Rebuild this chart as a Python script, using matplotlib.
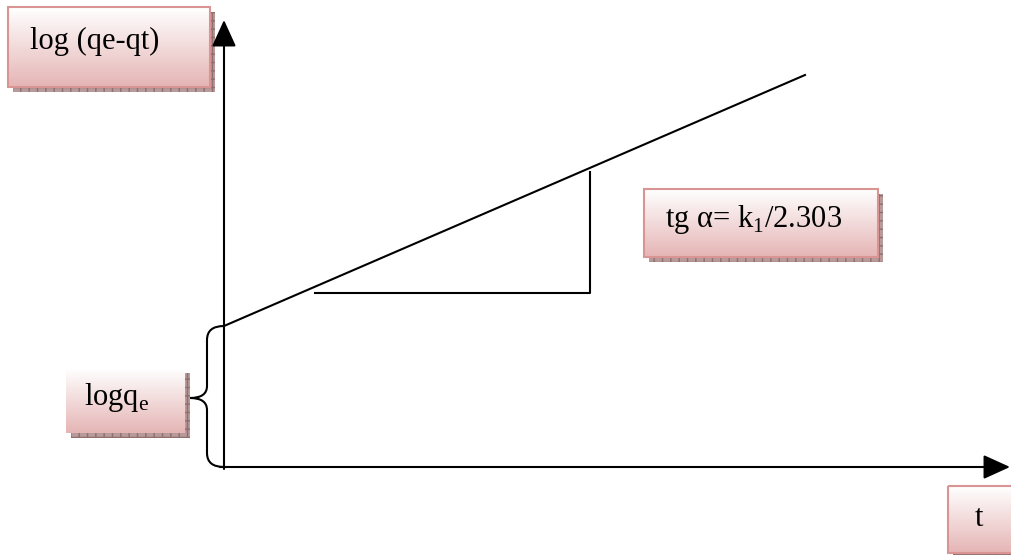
import matplotlib.pyplot as plt
import numpy as np
from matplotlib.patches import Rectangle, PathPatch
from matplotlib.path import Path

# diagram geometry (pixel space of the 1012x555 picture)
origin = (224, 467)
y_axis_top = (224, 20)
x_axis_end = (1010, 467)
line_x = [224, 805]
line_y = [326, 75]
tri_x = [315, 590, 590]
tri_y = [293, 293, 172]

# label boxes: (x0, y0, x1, y1), text, text x, text y, border shown
boxes = [
    ((8, 7, 210, 87), "log (qe-qt)", 30, 41, True),
    ((66, 368, 185, 433), r"logq$_\mathregular{e}$", 84, 398, False),
    ((644, 189, 878, 257), r"tg α= k$_\mathregular{1}$/2.303", 665, 219, True),
    ((948, 486, 1016, 553), "t", 975, 519, True),
]

plt.rcParams['font.family'] = ['Liberation Serif', 'DejaVu Serif']
plt.rcParams['mathtext.fontset'] = 'custom'
plt.rcParams['mathtext.rm'] = 'Liberation Serif'

fig = plt.figure(figsize=(10.12, 5.55), dpi=100)
ax = fig.add_axes([0, 0, 1, 1])
ax.set_xlim(0, 1012)
ax.set_ylim(555, 0)
ax.axis('off')

# axes arrows
arrow = dict(arrowstyle='-|>,head_length=1.1,head_width=0.5', color='black', lw=1.5,
             shrinkA=0, shrinkB=0, mutation_scale=15)
ax.annotate('', xy=y_axis_top, xytext=(origin[0], origin[1] + 2), arrowprops=arrow)
ax.annotate('', xy=x_axis_end, xytext=(origin[0] - 4, origin[1]), arrowprops=arrow)

# line and slope triangle
ax.plot(line_x, line_y, color='black', lw=1.5)
ax.plot(tri_x, tri_y, color='black', lw=1.5)

# brace for logqe
bx, tip_x, mid = 207, 190, 398
top, bot = 326, 467
verts = [(224, top), (bx, top), (bx, top + 14),
         (bx, mid - 12),
         (bx, mid), (tip_x, mid),
         (bx, mid), (bx, mid + 12),
         (bx, bot - 14),
         (bx, bot), (224, bot)]
codes = [Path.MOVETO, Path.CURVE3, Path.CURVE3,
         Path.LINETO,
         Path.CURVE3, Path.CURVE3,
         Path.CURVE3, Path.CURVE3,
         Path.LINETO,
         Path.CURVE3, Path.CURVE3]
ax.add_patch(PathPatch(Path(verts, codes), fill=False, lw=1.5, ec='black'))

# gradient boxes with hatched shadow
grad = np.linspace(0, 1, 64).reshape(-1, 1)
top_c = np.array([1.0, 1.0, 1.0])
bot_c = np.array([0.90, 0.71, 0.71])
img = top_c + grad[..., None] * (bot_c - top_c)
for (x0, y0, x1, y1), label, tx, ty, border in boxes:
    ax.add_patch(Rectangle((x0 + 5, y0 + 5), x1 - x0, y1 - y0, facecolor='#b89a9a',
                           edgecolor='#8f6f6f', hatch='++', lw=0, zorder=1))
    ax.imshow(img, extent=(x0, x1, y1, y0), aspect='auto', zorder=2)
    if border:
        ax.add_patch(Rectangle((x0, y0), x1 - x0, y1 - y0, fill=False,
                               edgecolor='#d99594', lw=1.5, zorder=3))
    ax.text(tx, ty, label, fontsize=22, ha='left', va='center', zorder=4)

ax.set_xlim(0, 1012)
ax.set_ylim(555, 0)
fig.savefig('out.png', dpi=100)
